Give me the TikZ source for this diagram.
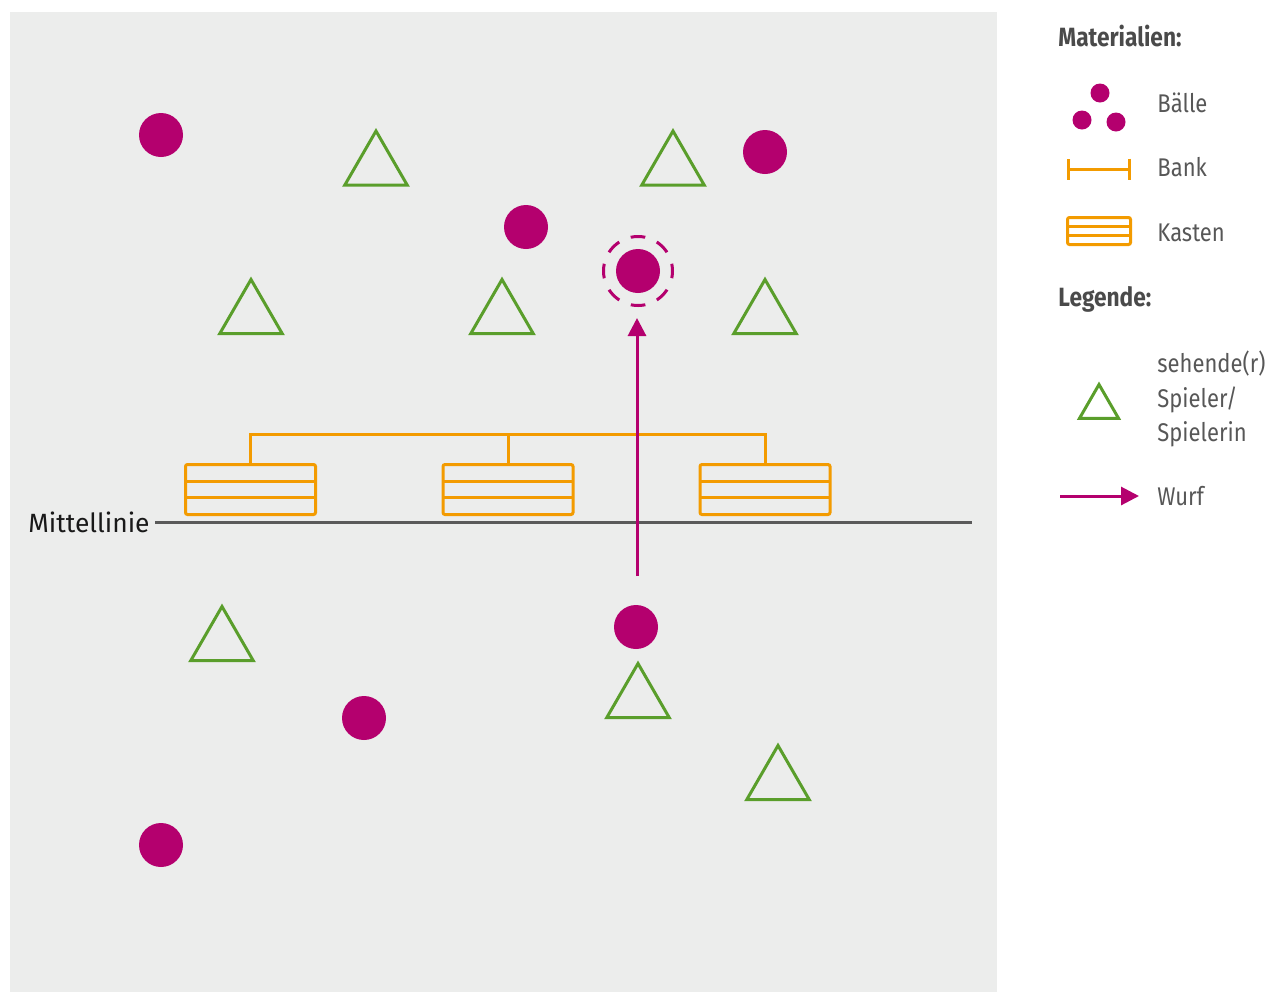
\documentclass[tikz,border=0pt]{standalone}
\usepackage{fontspec}
\setmainfont{Fira Sans}
\newfontfamily\titelfont[FakeStretch=0.86]{Fira Sans}
\newfontfamily\schmalfont[FakeStretch=0.86]{Fira Sans}
\usepackage{xcolor}
\usepackage{tikz}
\usetikzlibrary{positioning, arrows.meta, shapes.geometric, calc}

\definecolor{feld}{HTML}{ECEDEC}
\definecolor{ballrot}{HTML}{B4006E}
\definecolor{spielergruen}{HTML}{5A9E2B}
\definecolor{kastenorange}{HTML}{F39B00}
\definecolor{liniengrau}{HTML}{5A5A5A}
\definecolor{textgrau}{HTML}{575757}

\begin{document}
\begin{tikzpicture}[x=0.5pt, y=-0.5pt, >=Stealth,
      ball/.style={circle, fill=ballrot, inner sep=0pt, minimum size=22pt},
      ring/.style={circle, draw=ballrot, line width=1.5pt, inner sep=0pt, minimum size=34.5pt,
        dash pattern=on 7.3pt off 6.25pt, dash phase=3.65pt},
      player/.style={regular polygon, regular polygon sides=3, draw=spielergruen, line width=1.5pt,
        inner sep=0pt, minimum size=36pt},
      kasten/.style={rectangle, draw=kastenorange, line width=1.5pt, rounded corners=1pt, inner sep=0pt,
        minimum width=65pt, minimum height=25pt,
        path picture={\draw[kastenorange, line width=1.5pt]
          ($(path picture bounding box.north west)!1/3!(path picture bounding box.south west)$) --
          ($(path picture bounding box.north east)!1/3!(path picture bounding box.south east)$)
          ($(path picture bounding box.north west)!2/3!(path picture bounding box.south west)$) --
          ($(path picture bounding box.north east)!2/3!(path picture bounding box.south east)$);}},
      bank/.style={draw=kastenorange, line width=1.5pt},
      wurf/.style={draw=ballrot, line width=1.5pt, -{Triangle[length=9pt, width=9pt]}},
      mittel/.style={draw=liniengrau, line width=1.5pt},
      legtext/.style={anchor=base west, inner sep=0pt, text=textgrau, font=\schmalfont\fontsize{12.8}{17.25}\selectfont},
      legtitle/.style={anchor=base west, inner sep=0pt, text=textgrau!85!black, font=\titelfont\bfseries\fontsize{13.2}{15}\selectfont}]

    \useasboundingbox (0,0) rectangle (1268,992);
    \fill[feld] (10,12) rectangle (997,992);

    % Mittellinie
    \node[anchor=east, inner sep=2.5pt, font=\fontsize{13.2}{16}\selectfont, text=black!90] (mlabel) at (155,522) {Mittellinie};
    \coordinate (mende) at (972,522);
    \draw[mittel] (mlabel.east) -- (mende);

    % Kaesten und Bank
    \node[kasten] (k1) at (250.5,489.5) {};
    \node[kasten] (k2) at (508,489.5) {};
    \node[kasten] (k3) at (765,489.5) {};
    \draw[bank] (k1.north) -- ++(0,-29) -| (k3.north);
    \draw[bank] (k2.north) -- ++(0,-29);

    % Baelle
    \node[ball] (b1) at (161,135) {};
    \node[ball] (b2) at (765,152) {};
    \node[ball] (b3) at (526,227) {};
    \node[ball] (b4) at (638,271) {};
    \node[ring] (ziel) at (638,271) {};
    \node[ball] (b5) at (636,627) {};
    \node[ball] (b6) at (364,718) {};
    \node[ball] (b7) at (161,845) {};

    % Spieler
    \node[player] (s1) at (376,167) {};
    \node[player] (s2) at (673,167) {};
    \node[player] (s3) at (251,315.5) {};
    \node[player] (s4) at (502,315.5) {};
    \node[player] (s5) at (765,315.5) {};
    \node[player] (s6) at (222,642.5) {};
    \node[player] (s7) at (638,699.5) {};
    \node[player] (s8) at (778,781.5) {};

    % Wurf
    \coordinate (wurfstart) at (637,576);
    \draw[wurf, shorten >=5.5pt] (wurfstart) -- (wurfstart |- ziel.south);

    % Legende
    \node[legtitle] (tmat) at (1058,46) {Materialien:};

    \node[ball, minimum size=9.5pt] (lb1) at (1100,93) {};
    \node[ball, minimum size=9.5pt] (lb2) at (1082,120) {};
    \node[ball, minimum size=9.5pt] (lb3) at (1116,122) {};
    \node[legtext] (tball) at (1157,112) {Bälle};

    \coordinate (lbank1) at (1067,169);
    \coordinate (lbank2) at (1131,169);
    \draw[bank, {Bar[width=10.5pt]}-{Bar[width=10.5pt]}] (lbank1) -- (lbank2);
    \node[legtext] (tbank) at (1157,176.5) {Bank};

    \node[kasten, minimum width=31.5pt, minimum height=13.5pt] (lkasten) at (1099,231) {};
    \node[legtext] (tkasten) at (1157,241) {Kasten};

    \node[legtitle] (tleg) at (1058,306) {Legende:};

    \node[player, minimum size=22.5pt] (lspieler) at (1099,407) {};
    \node[legtext, anchor=west, align=left] (tspieler) at (1157,399) {sehende(r)\\Spieler/\\Spielerin};

    \coordinate (lwurf1) at (1060,496);
    \coordinate (lwurf2) at (1139,496);
    \draw[wurf] (lwurf1) -- (lwurf2);
    \node[legtext] (twurf) at (1157,505.5) {Wurf};
  \end{tikzpicture}
\end{document}
